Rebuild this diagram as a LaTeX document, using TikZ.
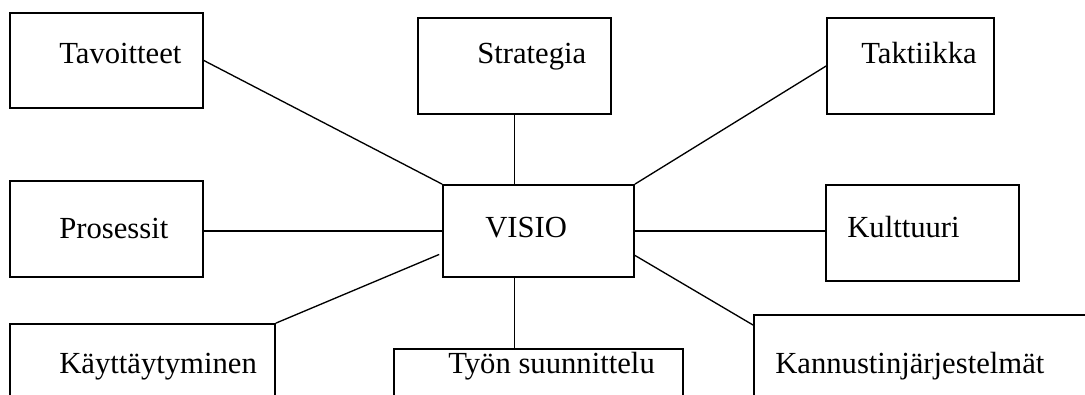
\documentclass[tikz,border=0pt]{standalone}
\usepackage{fontspec}
\setmainfont{Liberation Serif}
\usetikzlibrary{fit,calc}
\begin{document}
\begin{tikzpicture}[x=0.75pt,y=-0.75pt,
  box/.style={draw,line width=1.3pt,inner sep=0pt,rectangle},
  lbl/.style={anchor=base west,inner sep=0pt,font=\fontsize{23}{27}\selectfont},
  conn/.style={line width=1pt}]
\useasboundingbox (0,0) rectangle (1085,394);
\clip (0,0) rectangle (1085,394);
% boxes
\node[box,fit={(10,13) (203,108)}] (tav) {};
\node[box,fit={(418,18) (611,114)}] (str) {};
\node[box,fit={(827,18) (994,114)}] (tak) {};
\node[box,fit={(10,181) (203,277)}] (pro) {};
\node[box,fit={(443,185) (634,277)}] (vis) {};
\node[box,fit={(826,185) (1019,281)}] (kul) {};
\node[box,fit={(10,324) (275,420)}] (kay) {};
\node[box,fit={(394,349) (683,420)}] (tyo) {};
\node[box,fit={(754,315) (1100,420)}] (kan) {};
% labels
\node[lbl] (tavt) at (59,63) {Tavoitteet};
\node[lbl] (strt) at (477,63) {Strategia};
\node[lbl] (takt) at (861,63) {Taktiikka};
\node[lbl] (prot) at (59,238) {Prosessit};
\node[lbl] (vist) at (485,237) {VISIO};
\node[lbl] (kult) at (847,237) {Kulttuuri};
\node[lbl] (kayt) at (59,373) {Käyttäytyminen};
\node[lbl] (tyot) at (448,373) {Työn suunnittelu};
\node[lbl] (kant) at (775,373) {Kannustinjärjestelmät};
% connectors
\draw[conn] (tav.east) -- (vis.north west);
\draw[conn] (str.south) -- (str.south |- vis.north);
\draw[conn] (tak.west) -- (vis.north east);
\draw[conn] (vis.west -| pro.east) -- (vis.west);
\draw[conn] (vis.east) -- (vis.east -| kul.west);
\draw[conn] (kay.north east) -- ([xshift=-2.2pt]$(vis.north west)!0.75!(vis.south west)$);
\draw[conn] ($(vis.north east)!0.76!(vis.south east)$) -- ([yshift=-8.2pt]kan.north west);
\draw[conn] (str.south |- vis.south) -- (str.south |- tyo.north);
\end{tikzpicture}
\end{document}
